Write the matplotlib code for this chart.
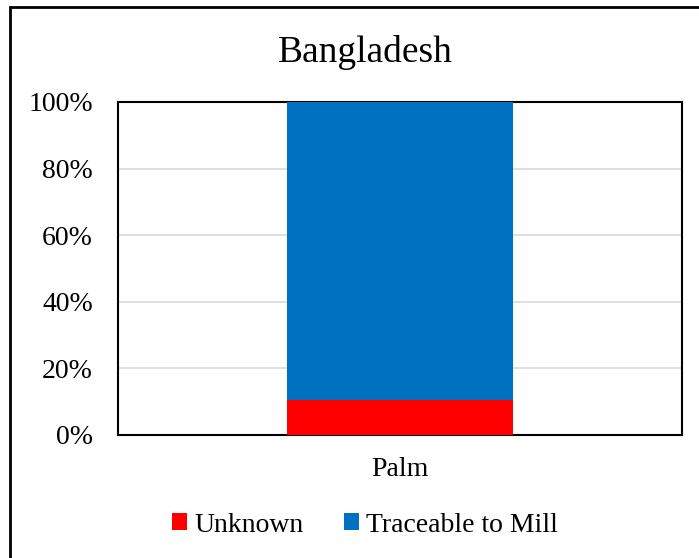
import matplotlib
matplotlib.use("Agg")
import matplotlib.pyplot as plt
from matplotlib.patches import Rectangle
from matplotlib.ticker import PercentFormatter

# Data
categories = ["Palm"]
unknown = [10.5]
traceable = [89.5]
yticks = [0, 20, 40, 60, 80, 100]

plt.rcParams["font.family"] = ["Liberation Serif", "DejaVu Serif"]

fig = plt.figure(figsize=(6.99, 5.58), dpi=100)

# outer chart border (cut off on the right and bottom)
fig.patches.append(Rectangle((10 / 699, -0.05), 1.2, (558 - 7) / 558 + 0.05,
                             transform=fig.transFigure, fill=False,
                             edgecolor="black", linewidth=2))

ax = fig.add_axes([118 / 699, 1 - 435 / 558, 564 / 699, 333 / 558])

ax.bar(categories, unknown, width=0.4, color="#FF0000", label="Unknown", zorder=3)
ax.bar(categories, traceable, width=0.4, bottom=unknown, color="#0070C0",
       label="Traceable to Mill", zorder=3)

ax.set_xlim(-0.5, 0.5)
ax.set_ylim(0, 100)
ax.set_yticks(yticks)
ax.yaxis.set_major_formatter(PercentFormatter(decimals=0))
ax.grid(axis="y", color="#D9D9D9", linewidth=1.2, zorder=0)
ax.tick_params(axis="both", length=0, labelsize=20)
ax.tick_params(axis="y", pad=18)
ax.tick_params(axis="x", pad=16)
for s in ax.spines.values():
    s.set_linewidth(1.5)
    s.set_color("black")

fig.text(365 / 699, 1 - 53 / 558, "Bangladesh", ha="center", va="center", fontsize=27)

fig.legend(loc="center", bbox_to_anchor=(365 / 699, 1 - 525 / 558), ncol=2,
           frameon=False, fontsize=20, handlelength=0.55, handleheight=0.55,
           handletextpad=0.25, columnspacing=1.45)

fig.savefig("out.png", dpi=100)
